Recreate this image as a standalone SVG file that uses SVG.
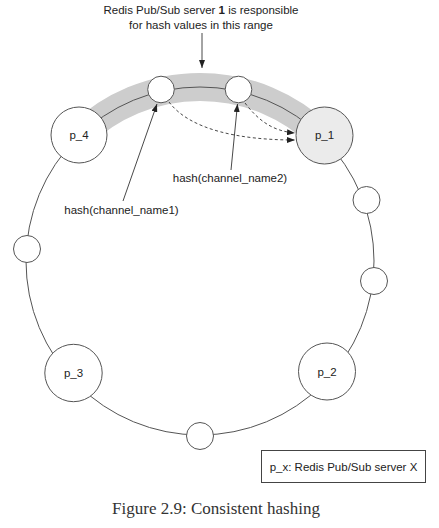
<svg xmlns="http://www.w3.org/2000/svg" width="439" height="528" viewBox="0 0 439 528">
  <style>
    .lbl { font-family: "Liberation Sans", Arial, sans-serif; font-size: 11.5px; fill: #222; }
    .node { fill: #fff; stroke: #555; stroke-width: 1; }
    .ring { fill: none; stroke: #555; stroke-width: 1; }
    .conn { fill: none; stroke: #333; stroke-width: 0.9; }
    .dash { fill: none; stroke: #333; stroke-width: 0.9; stroke-dasharray: 3 2.5; }
    .cap { font-family: "Liberation Serif", "Times New Roman", serif; font-size: 17px; fill: #333; }
  </style>
  <defs>
    <marker id="arr" viewBox="0 0 8 6" refX="8" refY="3" markerWidth="8" markerHeight="6" markerUnits="userSpaceOnUse" orient="auto">
      <path d="M0,0 L8,3 L0,6 Z" fill="#222"/>
    </marker>
  </defs>
  <rect width="439" height="528" fill="#fff"/>

  <g id="band">
    <path d="M79.9,135 A174,174 0 0 1 320.6,135.5" fill="none" stroke="#cdcdcd" stroke-width="28"/>
  </g>
  <g id="ring">
    <circle class="ring" cx="200" cy="261" r="174"/>
  </g>

  <g id="node-p4"><circle class="node" cx="79" cy="135" r="28"/><text class="lbl" x="79" y="139" text-anchor="middle">p_4</text></g>
  <g id="node-p1"><circle class="node" cx="324.5" cy="135.5" r="28.5" style="fill:#ebebeb"/><text class="lbl" x="324.5" y="139" text-anchor="middle">p_1</text></g>
  <g id="node-p3"><circle class="node" cx="73.5" cy="373" r="28.7"/><text class="lbl" x="73.5" y="377" text-anchor="middle">p_3</text></g>
  <g id="node-p2"><circle class="node" cx="327" cy="371.5" r="28.5"/><text class="lbl" x="327" y="375.5" text-anchor="middle">p_2</text></g>
  <g id="hash1"><circle class="node" cx="161" cy="89.5" r="13.3"/></g>
  <g id="hash2"><circle class="node" cx="238.5" cy="89.5" r="13.3"/></g>
  <g id="v1"><circle class="node" cx="366.5" cy="200" r="13.5"/></g>
  <g id="v2"><circle class="node" cx="27" cy="249" r="13.5"/></g>
  <g id="v3"><circle class="node" cx="374" cy="281" r="13.5"/></g>
  <g id="v4"><circle class="node" cx="200" cy="436" r="13.5"/></g>

  <g id="connectors">
    <line class="conn" x1="202" y1="33" x2="202" y2="68" marker-end="url(#arr)"/>
    <line class="conn" x1="123" y1="201" x2="157" y2="104" marker-end="url(#arr)"/>
    <line class="conn" x1="231" y1="170" x2="237.5" y2="104" marker-end="url(#arr)"/>
    <path class="dash" d="M169,102 C190,130 240,140 295,140" marker-end="url(#arr)"/>
    <path class="dash" d="M245,103 C258,120 272,131 295,133" marker-end="url(#arr)"/>
  </g>

  <g id="top-label">
    <text class="lbl" x="201" y="14" text-anchor="middle">Redis Pub/Sub server <tspan font-weight="bold">1</tspan> is responsible</text>
    <text class="lbl" x="201" y="29" text-anchor="middle">for hash values in this range</text>
  </g>
  <g id="hash-labels">
    <text class="lbl" x="121.5" y="214" text-anchor="middle">hash(channel_name1)</text>
    <text class="lbl" x="230" y="182" text-anchor="middle">hash(channel_name2)</text>
  </g>

  <g id="legend">
    <rect x="261.5" y="450.5" width="164" height="32" fill="#fff" stroke="#444" stroke-width="1"/>
    <text class="lbl" x="343.5" y="470.5" text-anchor="middle">p_x: Redis Pub/Sub server X</text>
  </g>

  <text class="cap" x="216" y="514" text-anchor="middle">Figure 2.9: Consistent hashing</text>
</svg>
